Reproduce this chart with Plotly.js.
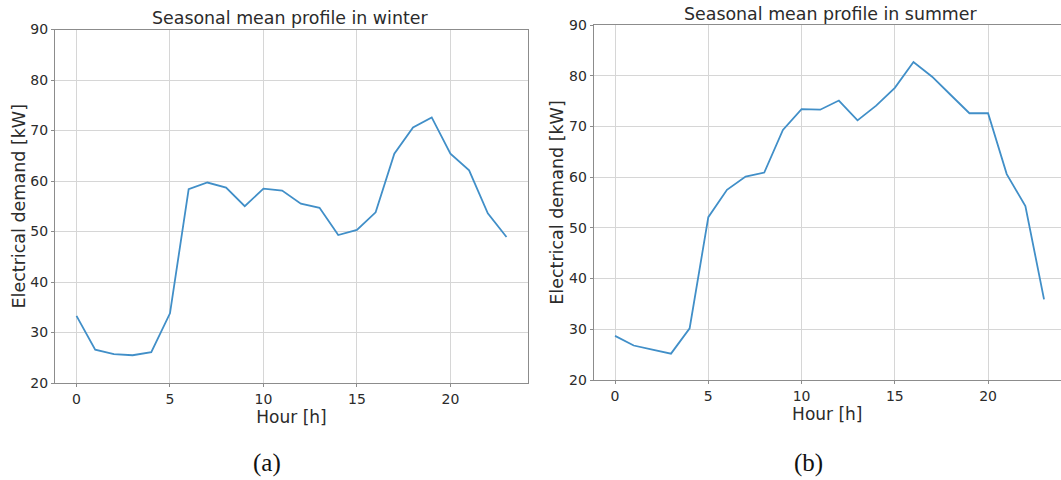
<!DOCTYPE html>
<html>
<head>
<meta charset="utf-8">
<script src="https://cdn.plot.ly/plotly-3.0.1.min.js"></script>
<style>html,body{margin:0;padding:0;background:#fff;}#chart{width:1061px;height:480px;}</style>
</head>
<body>
<div id="chart"></div>
<script>
const hours = [0,1,2,3,4,5,6,7,8,9,10,11,12,13,14,15,16,17,18,19,20,21,22,23];
const winterDemand = [33.3,26.6,25.7,25.5,26.1,33.8,58.4,59.7,58.7,55.0,58.5,58.1,55.5,54.7,49.3,50.3,53.8,65.4,70.6,72.6,65.4,62.1,53.6,48.9];
const summerDemand = [28.7,26.8,26.0,25.2,30.2,52.1,57.5,60.1,60.9,69.3,73.4,73.3,75.1,71.2,74.1,77.6,82.7,79.8,76.2,72.6,72.6,60.6,54.3,35.9];
const panelTitles = ["Seasonal mean profile in winter", "Seasonal mean profile in summer"];
const captions = ["(a)", "(b)"];
const xTitle = "Hour [h]";
const yTitle = "Electrical demand [kW]";
const xTicks = [0,5,10,15,20];
const yTicks = [20,30,40,50,60,70,80,90];

const lineColor = '#418fc8';
const textColor = '#2b2b2b';
const tickFont = {family: 'DejaVu Sans', size: 14, color: textColor};
const xTitleFont = {family: 'DejaVu Sans', size: 17, color: textColor};
const yTitleFont = {family: 'DejaVu Sans', size: 17.5, color: textColor};

function xAxis(domain, range) {
  return {
    domain: domain, range: range, tickvals: xTicks, ticktext: xTicks.map(String),
    showgrid: true, gridcolor: '#d6d6d6', gridwidth: 1, zeroline: false,
    showline: true, linecolor: '#8c8c8c', linewidth: 1, mirror: true,
    ticks: 'outside', ticklen: 3, tickcolor: '#8c8c8c', tickfont: tickFont,
    title: {text: xTitle, font: xTitleFont, standoff: 0}
  };
}
function yAxis(domain, anchor) {
  return {
    domain: domain, range: [20, 90], tickvals: yTicks, ticktext: yTicks.map(String),
    anchor: anchor,
    showgrid: true, gridcolor: '#d6d6d6', gridwidth: 1, zeroline: false,
    showline: true, linecolor: '#8c8c8c', linewidth: 1, mirror: true,
    ticks: 'outside', ticklen: 3, tickcolor: '#8c8c8c', tickfont: tickFont,
    title: {text: yTitle, font: yTitleFont, standoff: 0}
  };
}

const traces = [
  {x: hours, y: winterDemand, xaxis: 'x', yaxis: 'y', mode: 'lines', line: {color: lineColor, width: 1.8}, hoverinfo: 'skip'},
  {x: hours, y: summerDemand, xaxis: 'x2', yaxis: 'y2', mode: 'lines', line: {color: lineColor, width: 1.8}, hoverinfo: 'skip'}
];

const layout = {
  width: 1061, height: 480,
  margin: {l: 0, r: 0, t: 0, b: 0},
  paper_bgcolor: '#ffffff', plot_bgcolor: '#ffffff',
  showlegend: false,
  xaxis: xAxis([55/1061, 528/1061], [-1.15, 24.15]),
  yaxis: yAxis([(480-383)/480, (480-29.5)/480], 'x'),
  xaxis2: Object.assign(xAxis([593.6/1061, 1], [-1.15, 23.91]), {anchor: 'y2'}),
  yaxis2: yAxis([(480-380)/480, (480-25)/480], 'x2'),
  annotations: [
    {text: panelTitles[0], xref: 'paper', yref: 'paper', x: 290/1061, y: (480-18)/480, xanchor: 'center', yanchor: 'middle', showarrow: false, font: {family: 'DejaVu Sans', size: 17.4, color: textColor}},
    {text: panelTitles[1], xref: 'paper', yref: 'paper', x: 830/1061, y: (480-14)/480, xanchor: 'center', yanchor: 'middle', showarrow: false, font: {family: 'DejaVu Sans', size: 17.4, color: textColor}},
    {text: captions[0], xref: 'paper', yref: 'paper', x: 267/1061, y: (480-463)/480, xanchor: 'center', yanchor: 'middle', showarrow: false, font: {family: 'Liberation Serif', size: 25, color: '#111111'}},
    {text: captions[1], xref: 'paper', yref: 'paper', x: 808/1061, y: (480-463)/480, xanchor: 'center', yanchor: 'middle', showarrow: false, font: {family: 'Liberation Serif', size: 25, color: '#111111'}}
  ]
};

Plotly.newPlot('chart', traces, layout, {staticPlot: true, displayModeBar: false});
</script>
</body>
</html>
